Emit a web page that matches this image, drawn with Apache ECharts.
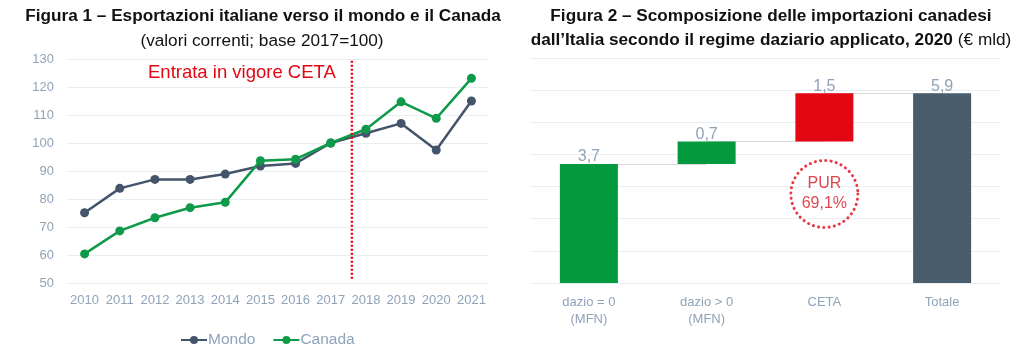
<!DOCTYPE html>
<html><head><meta charset="utf-8">
<script src="https://cdn.jsdelivr.net/npm/echarts@6/dist/echarts.min.js"></script>
<style>html,body{margin:0;padding:0;background:#fff}#c{width:1024px;height:350px}</style>
</head><body><div id="c"></div>
<script>
// Figure 1 data
const years = ['2010','2011','2012','2013','2014','2015','2016','2017','2018','2019','2020','2021'];
const mondo = [75.1, 83.8, 87.0, 87.0, 88.9, 91.8, 92.7, 100.0, 103.5, 107.0, 97.5, 115.0];
const canada = [60.4, 68.6, 73.3, 76.9, 78.8, 93.7, 94.2, 100.0, 104.9, 114.7, 108.8, 123.1];
const cetaPos = 7.6; // entry into force, between 2017 and 2018
const yTicks1 = [50, 130, 10];
// Figure 2 data
const cats2 = ['dazio = 0\n(MFN)', 'dazio > 0\n(MFN)', 'CETA', 'Totale'];
const parts = [3.7, 0.7, 1.5];
const total = 5.9;
const purLabel = 'PUR\n69,1%';
const purValue = 2.77;

const vals2 = parts.concat([total]);
const bases = [];
let acc = 0;
parts.forEach(v => { bases.push(acc); acc += v; });
bases.push(0);
const colors2 = ['#03993F', '#03993F', '#E30613', '#495C6B'];
const gray = '#8FA3B8';
const fmt = v => String(v.toFixed(1)).replace('.', ',');

const connectors = [];
let run = 0;
for (let i = 0; i < parts.length; i++) {
  run += parts[i];
  connectors.push([{coord: [i, +run.toFixed(2)]}, {coord: [i + 1, +run.toFixed(2)]}]);
}

const chart = echarts.init(document.getElementById('c'), null, {renderer: 'canvas'});
chart.setOption({
  animation: false,
  textStyle: {fontFamily: 'Liberation Sans, Arial, sans-serif'},
  title: [
    {text: 'Figura 1 – Esportazioni italiane verso il mondo e il Canada', left: 258, textAlign: 'center', top: 3,
     textStyle: {fontSize: 17.2, fontWeight: 'bold', color: '#111'}},
    {text: '(valori correnti; base 2017=100)', left: 257, textAlign: 'center', top: 28,
     textStyle: {fontSize: 17.2, fontWeight: 'normal', color: '#111'}},
    {text: '{b|Figura 2 – Scomposizione delle importazioni canadesi}\n{b|dall’Italia secondo il regime daziario applicato, 2020} {n|(€ mld)}',
     left: 766, textAlign: 'center', top: 4, padding: [0, 5, 5, 5],
     textStyle: {rich: {b: {fontSize: 17.2, fontWeight: 'bold', color: '#111', lineHeight: 24.5, fontFamily: 'Liberation Sans'},
                        n: {fontSize: 17.2, fontWeight: 'normal', color: '#111', lineHeight: 24.5, fontFamily: 'Liberation Sans'}}}}
  ],
  legend: {
    data: ['Mondo', 'Canada'], left: 175, top: 327, itemWidth: 26, itemHeight: 10, itemGap: 17,
    textStyle: {color: gray, fontSize: 15.5, padding: [0, 0, 0, -4]}
  },
  grid: [
    {left: 67, right: 535, top: 59, bottom: 67},
    {left: 530, right: 23, top: 58, bottom: 67}
  ],
  xAxis: [
    {type: 'category', data: years, gridIndex: 0, boundaryGap: true,
     axisLine: {show: false}, axisTick: {show: false},
     axisLabel: {color: gray, fontSize: 13, margin: 11, interval: 0}},
    {type: 'value', gridIndex: 0, min: -0.5, max: years.length - 0.5, show: false},
    {type: 'category', data: cats2, gridIndex: 1,
     axisLine: {show: false}, axisTick: {show: false},
     axisLabel: {color: gray, fontSize: 13, margin: 11, lineHeight: 17, interval: 0}}
  ],
  yAxis: [
    {type: 'value', gridIndex: 0, min: yTicks1[0], max: yTicks1[1], interval: yTicks1[2],
     axisLine: {show: false}, axisTick: {show: false},
     axisLabel: {color: gray, fontSize: 13, margin: 13},
     splitLine: {lineStyle: {color: '#E9EEF3', width: 1}}},
    {type: 'value', gridIndex: 1, min: 0, max: 7, interval: 1,
     axisLine: {show: false}, axisTick: {show: false}, axisLabel: {show: false},
     splitLine: {lineStyle: {color: '#E9EEF3', width: 1}}}
  ],
  series: [
    {name: 'Mondo', type: 'line', xAxisIndex: 0, yAxisIndex: 0, data: mondo,
     symbol: 'circle', symbolSize: 9, lineStyle: {width: 2.5, color: '#44546A'},
     itemStyle: {color: '#44546A'}, z: 3},
    {name: 'Canada', type: 'line', xAxisIndex: 0, yAxisIndex: 0, data: canada,
     symbol: 'circle', symbolSize: 9, lineStyle: {width: 2.5, color: '#0E9A48'},
     itemStyle: {color: '#0E9A48'}, z: 4},
    {name: 'ceta', type: 'line', xAxisIndex: 1, yAxisIndex: 0,
     data: [[cetaPos, 51.5], [cetaPos, 130]], symbol: 'none', silent: true,
     lineStyle: {color: '#E30613', width: 2.5, type: [2, 2]}, z: 5},
    {name: 'base', type: 'bar', xAxisIndex: 2, yAxisIndex: 1, stack: 'w', data: bases,
     barWidth: 58, itemStyle: {color: 'transparent'}, silent: true,
     markLine: {symbol: 'none', silent: true, z: 1, label: {show: false},
                lineStyle: {color: '#D9D9D9', width: 1, type: 'solid'}, data: connectors}},
    {name: 'val', type: 'bar', xAxisIndex: 2, yAxisIndex: 1, stack: 'w', barWidth: 58, z: 3,
     data: vals2.map((v, i) => ({value: v, itemStyle: {color: colors2[i]}})),
     label: {show: true, position: 'top', distance: -1, color: gray, fontSize: 16,
             formatter: p => fmt(p.value)}},
    {name: 'pur', type: 'scatter', xAxisIndex: 2, yAxisIndex: 1, data: [[2, purValue]],
     symbol: 'circle', symbolSize: 67, silent: true, z: 6,
     itemStyle: {color: 'rgba(0,0,0,0)', borderColor: '#E30613', borderWidth: 3, borderType: [0.1, 5.2], borderCap: 'round'},
     label: {show: true, position: 'inside', formatter: purLabel, color: '#D7161E', fontSize: 16, lineHeight: 20}}
  ],
  graphic: [
    {type: 'text', left: 148, top: 63,
     style: {text: 'Entrata in vigore CETA', fill: '#E30613', font: '18.5px "Liberation Sans", Arial, sans-serif'}}
  ]
});
</script></body></html>
